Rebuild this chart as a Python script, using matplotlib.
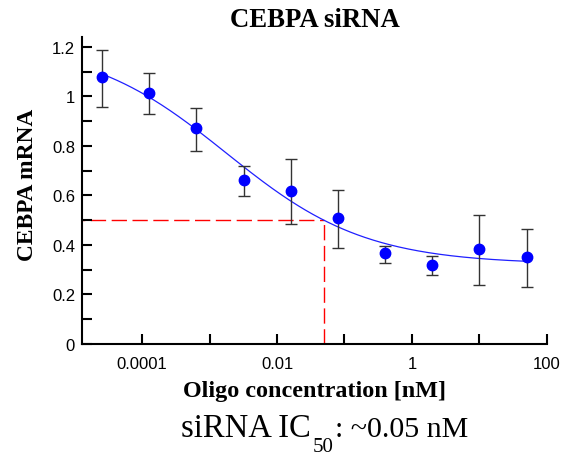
import numpy as np
import matplotlib
matplotlib.use("Agg")
import matplotlib.pyplot as plt
from matplotlib.ticker import FixedLocator, MultipleLocator, FuncFormatter

# Data
conc_nM = [2.56e-5, 1.28e-4, 6.4e-4, 3.2e-3, 0.016, 0.08, 0.4, 2.0, 10.0, 50.0]
mrna = [1.078, 1.013, 0.871, 0.664, 0.620, 0.508, 0.366, 0.320, 0.384, 0.350]
err_low = [0.119, 0.085, 0.093, 0.065, 0.135, 0.120, 0.039, 0.042, 0.146, 0.118]
err_high = [0.110, 0.081, 0.083, 0.056, 0.129, 0.114, 0.031, 0.037, 0.138, 0.115]

# 4-parameter logistic fit parameters
fit_top = 1.22
fit_bottom = 0.322
fit_log_ec50 = -2.75
fit_hill = 0.42

ic50_nM = 0.05
half_level = 0.5

x_major = [1e-5, 1e-4, 1e-3, 1e-2, 1e-1, 1, 10, 100]
x_labels = {1e-4: "0.0001", 1e-2: "0.01", 1: "1", 100: "100"}

caption_main = "siRNA IC"
caption_sub = "50"
caption_rest = ": ~0.05 nM"

plt.rcParams['font.family'] = ['Liberation Sans', 'DejaVu Sans']

W, H = 570, 460
fig = plt.figure(figsize=(W/100, H/100), dpi=100)
ax = fig.add_axes([82/W, 1 - 345/H, (547-82)/W, (345-38)/H])

xs = np.logspace(np.log10(conc_nM[0]), np.log10(conc_nM[-1]), 400)
ys = fit_bottom + (fit_top - fit_bottom) / (1 + 10 ** (fit_hill * (np.log10(xs) - fit_log_ec50)))
ax.plot(xs, ys, color='#2020ff', lw=0.9, zorder=2)

ax.errorbar(conc_nM, mrna, yerr=[err_low, err_high], fmt='none', ecolor='#333333',
            elinewidth=1.0, capsize=4, capthick=1.0, zorder=3)
ax.plot(conc_nM, mrna, 'o', color='#0000ff', ms=7.5, mec='#0000ff', zorder=4, clip_on=False)

# IC50 guide lines
ax.plot([1e-6, ic50_nM], [half_level, half_level], color='#ff0000', lw=1.0,
        dashes=(11, 4), zorder=1)
ax.plot([ic50_nM, ic50_nM], [0, half_level], color='#ff0000', lw=1.0,
        dashes=(11, 4), zorder=1)

ax.set_xscale('log')
xmin = 10 ** (-4 - 60/67.5)
ax.set_xlim(xmin, 100)
ax.set_ylim(0, 1.24)

def xfmt(v, p):
    for k, s in x_labels.items():
        if abs(v - k) / k < 1e-6:
            return s
    return ""

ax.xaxis.set_major_locator(FixedLocator(x_major))
ax.xaxis.set_minor_locator(FixedLocator([]))
ax.xaxis.set_major_formatter(FuncFormatter(xfmt))
ax.yaxis.set_major_locator(MultipleLocator(0.1))
ax.yaxis.set_major_formatter(FuncFormatter(lambda v, p: ("%g" % round(v, 1)) if round(v * 10) % 2 == 0 else ""))

for side in ['top', 'right']:
    ax.spines[side].set_visible(False)
for side in ['left', 'bottom']:
    ax.spines[side].set_linewidth(1.5)
ax.tick_params(direction='in', length=7, width=1.5, labelsize=12, pad=5)
ax.tick_params(axis='x', pad=9)

ax.set_title("CEBPA siRNA", fontfamily='Liberation Serif', fontweight='bold', fontsize=19.3, pad=8)
ax.set_ylabel("CEBPA mRNA", fontfamily='Liberation Serif', fontweight='bold', fontsize=16.8)
ax.yaxis.set_label_coords((38-82)/465, (345-185)/307)
ax.set_xlabel("Oligo concentration [nM]", fontfamily='Liberation Serif', fontweight='bold', fontsize=17.4, labelpad=6)

# Caption with large, lowered subscript
fig.canvas.draw()
r = fig.canvas.get_renderer()
base_y = 1 - 437/H
t1 = fig.text(181/W, base_y, caption_main, ha='left', va='baseline',
              fontfamily='Liberation Serif', fontsize=23.5)
bb1 = t1.get_window_extent(r)
t2 = fig.text((bb1.x1 + 2)/W, 1 - 452/H, caption_sub, ha='left', va='baseline',
              fontfamily='Liberation Serif', fontsize=15)
bb2 = t2.get_window_extent(r)
t3 = fig.text((bb2.x1 + 1)/W, base_y, caption_rest, ha='left', va='baseline',
              fontfamily='Liberation Serif', fontsize=21.6)

fig.savefig("out.png", dpi=100)
